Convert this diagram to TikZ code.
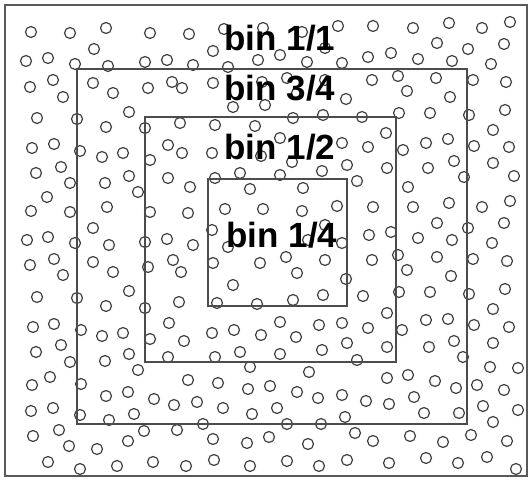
\documentclass[tikz,border=0pt]{standalone}
\usepackage{fontspec}
\setmainfont{Liberation Sans}
\usepackage{tikz}
\pgfdeclarelayer{edgelayer}
\pgfdeclarelayer{nodelayer}
\pgfsetlayers{edgelayer,nodelayer,main}
\tikzstyle{particle}=[circle, draw=black!75, line width=1.2pt, inner sep=0pt, minimum size=11pt]
\tikzstyle{binbox}=[draw=black!70, line width=2pt]
\tikzstyle{framebox}=[draw=black!65, line width=1.6pt]
\tikzstyle{binlabel}=[font=\bfseries\fontsize{35}{35}\selectfont, inner sep=0pt]

\begin{document}
\begin{tikzpicture}[x=1pt, y=-1pt]
						\useasboundingbox (0,0) rectangle (531,481);
						\begin{pgfonlayer}{edgelayer}
							\foreach \x/\y [count=\i] in {31/32, 70/33, 106/28, 150/33, 94/49, 26/61, 48/58, 75/64, 108/66, 145/62, 167/60,
								30/87, 53/80, 63/97, 93/83, 113/93, 148/88, 172/82, 37/118, 77/119, 129/112, 106/127, 145/128, 180/123,
								32/148, 54/144, 80/151, 102/157, 123/153, 168/145, 150/160, 189/34, 193/65, 182/88, 182/153,
								190/187, 188/213, 193/245, 181/272, 179/302, 169/323,
								224/29, 263/28, 302/32, 338/26, 373/26, 213/51, 325/48, 258/60, 280/55, 307/62, 342/63, 368/57,
								228/67, 213/83, 262/82, 287/78, 297/93, 325/80, 346/99, 372/80, 233/107, 265/105, 293/118, 323/115,
								362/117, 215/125, 255/126, 212/153, 280/138, 342/143, 368/147, 261/156, 292/162,
								413/28, 449/23, 482/28, 510/22, 437/43, 468/49, 504/44, 391/53, 418/59, 452/61, 491/64, 398/76,
								436/78, 473/80, 506/82, 407/91, 450/97, 399/113, 430/113, 469/115, 505/110, 386/133, 493/130,
								403/150, 426/143, 448/139, 474/146, 509/147,
								36/173, 61/167, 70/183, 47/197, 31/211, 70/212, 27/240, 48/237, 75/243, 30/265, 54/259, 63/275,
								37/297, 77/298, 105/183, 129/176, 138/192, 168/178, 107/207, 150/212, 93/228, 109/245, 145/242,
								167/239, 93/262, 113/272, 148/267, 173/260, 129/291, 106/306, 145/308,
								33/327, 54/324, 81/330, 102/336, 123/333, 150/339, 36/352, 61/345, 70/362, 105/361, 129/354,
								138/370, 168/357, 32/385, 50/377, 81/384, 106/396, 128/392, 154/399, 174/405, 31/411, 53/408,
								80/415, 109/420, 134/414, 144/431, 177/430, 33/436, 59/430, 69/446, 97/449, 128/441, 48/462,
								80/469, 117/466, 153/462,
								184/341, 212/333, 234/330, 261/335, 280/322, 296/337, 319/325, 342/323, 347/343, 215/357, 240/352,
								280/354, 322/350, 250/367, 309/372, 188/380, 218/383, 248/389, 270/386, 297/392, 318/398, 342/395,
								197/402, 223/408, 252/414, 277/408, 203/424, 287/424, 321/424, 345/417, 355/433, 213/439, 247/443,
								269/437, 308/444, 186/466, 214/460, 250/466, 287/461, 319/466, 347/460,
								215/178, 240/173, 280/175, 322/171, 347/165, 357/181, 250/189, 303/188, 225/209, 263/209, 302/211,
								337/206, 373/207, 212/230, 228/247, 308/240, 325/225, 342/243, 369/235, 213/263, 260/263, 286/257,
								325/260, 297/273, 372/260, 233/285, 346/279, 323/295, 363/296, 217/303, 257/304, 293/300,
								387/168, 428/168, 454/161, 464/177, 493/163, 514/176, 408/187, 413/207, 449/203, 482/207, 510/201,
								437/223, 468/228, 504/223, 391/232, 418/238, 452/240, 492/243, 398/255, 407/270, 437/257, 473/259,
								507/261, 451/276, 399/292, 430/292, 469/294, 505/289, 387/313, 426/320, 448/319, 493/309,
								368/328, 387/347, 357/360, 387/378, 366/401, 389/404, 373/441, 389/463,
								402/330, 474/325, 509/327, 429/347, 454/341, 463/357, 493/343, 408/375, 435/381, 456/388, 490/367,
								518/368, 414/397, 424/413, 459/413, 477/385, 504/390, 483/406, 493/422, 518/410, 410/436, 443/442,
								471/435, 507/441, 426/458, 458/463, 487/457, 516/469}
								\node [style=particle] (p\i) at (\x, \y) {};
						\end{pgfonlayer}
						\begin{pgfonlayer}{nodelayer}
							\draw [style=framebox] (5, 5) rectangle (527, 476);
							\draw [style=binbox] (77, 69) rectangle (467, 424);
							\draw [style=binbox] (145, 117) rectangle (396, 362);
							\draw [style=binbox] (208, 179) rectangle (347, 306);
						\end{pgfonlayer}
						\node [style=binlabel] (full) at (280, 38) {bin 1/1};
						\node [style=binlabel] (threequarter) at (280, 88) {bin 3/4};
						\node [style=binlabel] (half) at (280, 147) {bin 1/2};
						\node [style=binlabel] (quarter) at (282, 235) {bin 1/4};
					\end{tikzpicture}
\end{document}
